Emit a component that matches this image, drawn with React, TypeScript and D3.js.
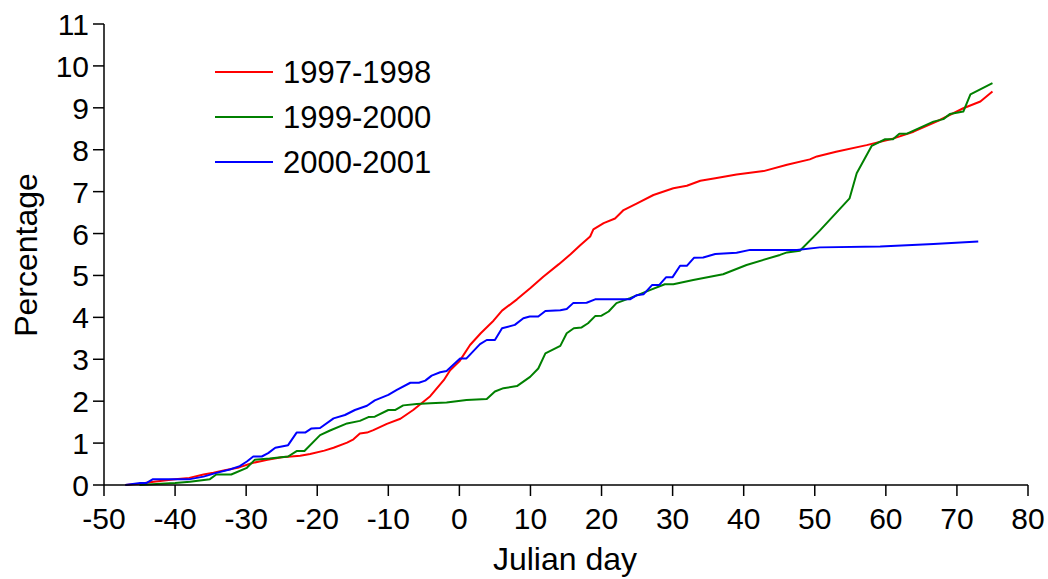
import React from "react";
import * as d3 from "d3";

const xTicks = [-50, -40, -30, -20, -10, 0, 10, 20, 30, 40, 50, 60, 70, 80];
const yTicks = [0, 1, 2, 3, 4, 5, 6, 7, 8, 9, 10, 11];
const seriesNames = ["1997-1998", "1999-2000", "2000-2001"];
const seriesColors = ["#ff0000", "#008000", "#0000ff"];

const s1997: [number, number][] = [
  [-47, 0], [-45, 0.03], [-43, 0.08], [-40, 0.14], [-38, 0.17], [-36, 0.25], [-34.6, 0.29], [-33, 0.35],
  [-31, 0.42], [-29, 0.53], [-27, 0.6], [-25, 0.66], [-22.4, 0.7], [-21, 0.74], [-19, 0.82], [-17.7, 0.89],
  [-15.8, 1.01], [-14.9, 1.09], [-14, 1.23], [-13, 1.25], [-12.1, 1.31], [-10.2, 1.46], [-8.3, 1.58],
  [-6.5, 1.79], [-4.1, 2.12], [-2.2, 2.5], [-1.3, 2.74], [0, 2.95], [1.5, 3.34], [3, 3.62], [4.8, 3.92],
  [6, 4.16], [8.1, 4.43], [10, 4.7], [11.8, 4.97], [14, 5.27], [15.6, 5.5], [17, 5.72], [18.4, 5.93],
  [18.85, 6.1], [20.3, 6.25], [21.9, 6.36], [23.1, 6.56], [25, 6.72], [27.3, 6.92], [30.1, 7.08], [32, 7.14],
  [33.9, 7.26], [36, 7.32], [39, 7.41], [42.8, 7.49], [46.1, 7.64], [49.3, 7.77], [50.3, 7.84], [53, 7.95],
  [57.3, 8.11], [61.1, 8.27], [63.9, 8.43], [67.6, 8.71], [70.9, 8.99], [73.3, 9.15], [75, 9.39],
];

const s1999: [number, number][] = [
  [-45, 0], [-42, 0.03], [-40, 0.05], [-37.9, 0.08], [-35.1, 0.14], [-34.2, 0.25], [-32.1, 0.25],
  [-29.9, 0.41], [-28.8, 0.6], [-26.7, 0.63], [-24.1, 0.68], [-22.9, 0.81], [-21.8, 0.81], [-19.6, 1.19],
  [-18.2, 1.3], [-15.8, 1.47], [-14, 1.53], [-12.8, 1.62], [-11.9, 1.63], [-10, 1.79], [-9, 1.79],
  [-7.9, 1.9], [-6, 1.93], [-4.1, 1.95], [-1.8, 1.97], [1, 2.03], [3.85, 2.05], [5, 2.23], [6.2, 2.31],
  [8.1, 2.36], [9.95, 2.58], [11.1, 2.78], [12.1, 3.14], [14.2, 3.32], [15.1, 3.62], [16.1, 3.74],
  [17.2, 3.76], [18.1, 3.86], [19.1, 4.03], [20, 4.04], [21, 4.14], [22.1, 4.34], [24, 4.46], [26.8, 4.65],
  [28.9, 4.79], [30.1, 4.79], [32.9, 4.89], [37.1, 5.03], [40.4, 5.25], [45.1, 5.49], [46.1, 5.55],
  [47.9, 5.59], [50.7, 6.07], [54.9, 6.84], [55.9, 7.44], [58, 8.09], [59.9, 8.25], [61, 8.25], [61.9, 8.38],
  [62.9, 8.38], [66.7, 8.67], [68.1, 8.73], [69, 8.85], [70.9, 8.91], [71.9, 9.32], [75, 9.59],
];

const s2000: [number, number][] = [
  [-47, 0], [-44.9, 0.05], [-44, 0.05], [-43.1, 0.14], [-37.9, 0.14], [-36, 0.2], [-34.2, 0.29],
  [-32.3, 0.37], [-30.9, 0.45], [-29.9, 0.56], [-29, 0.68], [-27.8, 0.68], [-26.9, 0.76], [-25.9, 0.89],
  [-24.1, 0.95], [-22.9, 1.25], [-21.7, 1.25], [-20.8, 1.35], [-19.6, 1.36], [-17.7, 1.59], [-16.1, 1.67],
  [-14.7, 1.79], [-13, 1.89], [-11.9, 2.02], [-10, 2.15], [-8.8, 2.27], [-6.9, 2.44], [-5.7, 2.44],
  [-4.8, 2.49], [-3.9, 2.61], [-2.7, 2.69], [-1.8, 2.72], [0.1, 3.02], [1, 3.02], [2.9, 3.36], [3.85, 3.46],
  [5, 3.46], [6, 3.74], [7.8, 3.82], [9, 3.98], [9.9, 4.02], [11.1, 4.02], [12.1, 4.15], [14.2, 4.17],
  [15.1, 4.2], [16, 4.34], [17.9, 4.35], [19.1, 4.43], [24, 4.43], [24.95, 4.53], [25.9, 4.55], [27.1, 4.77],
  [28.1, 4.77], [29.1, 4.96], [30, 4.96], [31.05, 5.23], [32, 5.23], [33, 5.42], [34.3, 5.43], [36, 5.51],
  [39, 5.54], [40.9, 5.61], [47.5, 5.61], [50.7, 5.67], [59.2, 5.69], [66.7, 5.75], [73, 5.81],
];

const allSeries = [s1997, s1999, s2000];

const W = 1048;
const H = 579;
const FONT = "'Liberation Sans', Arial, sans-serif";

export default function App() {
  const x = d3.scaleLinear().domain([-50, 80]).range([104, 1028]);
  const y = d3.scaleLinear().domain([0, 11]).range([485, 24]);
  const line = d3
    .line<[number, number]>()
    .x((d) => x(d[0]))
    .y((d) => y(d[1]));

  return (
    <svg
      width={W}
      height={H}
      style={{ position: "absolute", left: 0, top: 0, background: "#fff" }}
      fontFamily={FONT}
    >
      {allSeries.map((s, i) => (
        <path key={i} d={line(s) || ""} fill="none" stroke={seriesColors[i]} strokeWidth={2} strokeLinejoin="round" />
      ))}
      <line x1={x(-50)} x2={x(80)} y1={y(0)} y2={y(0)} stroke="#000" strokeWidth={1.5} />
      <line x1={x(-50)} x2={x(-50)} y1={y(0)} y2={y(11)} stroke="#000" strokeWidth={1.5} />
      {xTicks.map((t) => (
        <g key={"x" + t}>
          <line x1={x(t)} x2={x(t)} y1={y(0)} y2={y(0) + 11} stroke="#000" strokeWidth={1.5} />
          <text x={x(t)} y={529} fontSize={30} textAnchor="middle" fill="#000">
            {t}
          </text>
        </g>
      ))}
      {yTicks.map((t) => (
        <g key={"y" + t}>
          <line x1={x(-50) - 11} x2={x(-50)} y1={y(t)} y2={y(t)} stroke="#000" strokeWidth={1.5} />
          <text x={89} y={y(t) + 11} fontSize={30} textAnchor="end" fill="#000">
            {t}
          </text>
        </g>
      ))}
      <text x={565} y={570} fontSize={32} textAnchor="middle" fill="#000">
        Julian day
      </text>
      <text transform="translate(37,255) rotate(-90)" fontSize={32} textAnchor="middle" fill="#000">
        Percentage
      </text>
      {seriesNames.map((n, i) => (
        <g key={n}>
          <line x1={215} x2={273} y1={72 + i * 45} y2={72 + i * 45} stroke={seriesColors[i]} strokeWidth={2} />
          <text x={283} y={72 + i * 45 + 11} fontSize={31} fill="#000">
            {n}
          </text>
        </g>
      ))}
    </svg>
  );
}
